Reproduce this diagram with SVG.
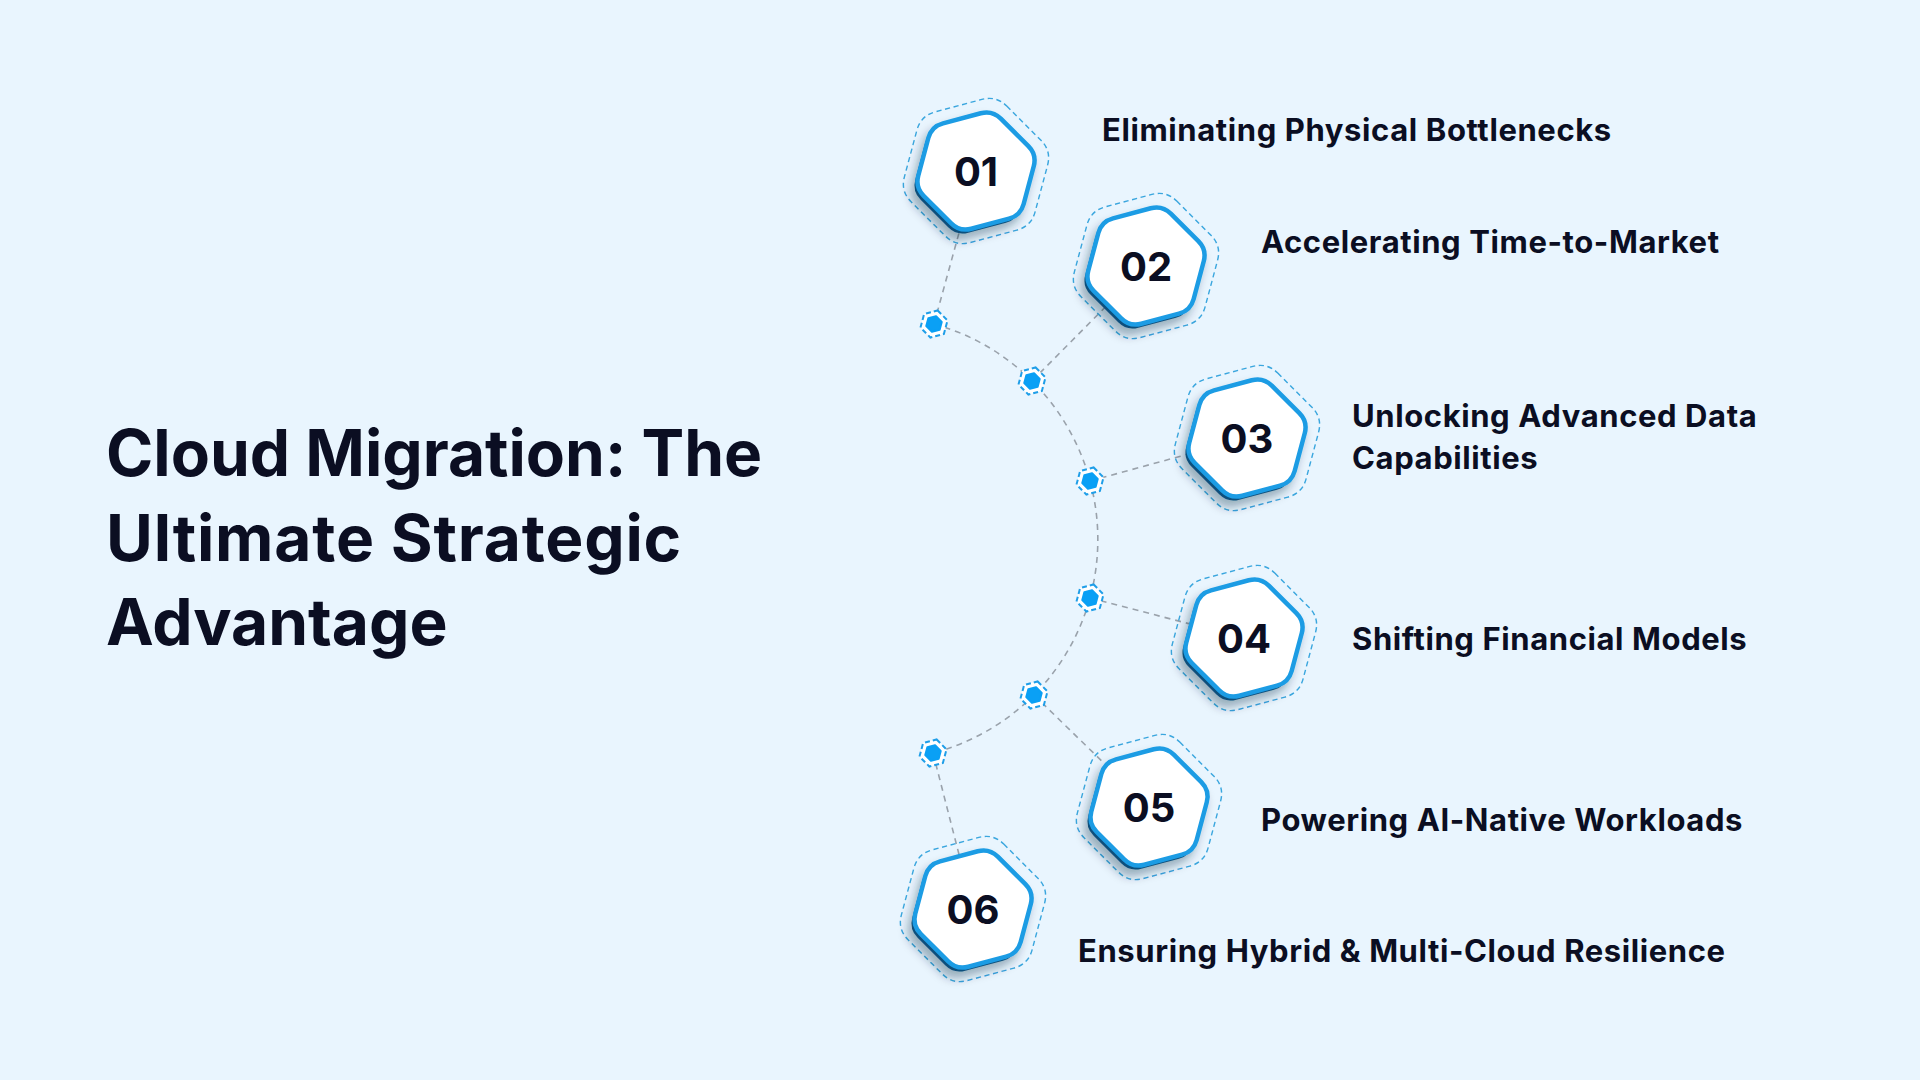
<svg xmlns="http://www.w3.org/2000/svg" xmlns:xlink="http://www.w3.org/1999/xlink" width="1920" height="1080" viewBox="0 0 1920 1080">
<style>
.title{font-family:Inter,"Liberation Sans",sans-serif;font-weight:700;font-size:64px;fill:#0b0e22}
.label{font-family:Inter,"Liberation Sans",sans-serif;font-weight:700;font-size:31px;letter-spacing:0.6px;fill:#0b0e22}
.num{font-family:Inter,"Liberation Sans",sans-serif;font-weight:700;font-size:40px;fill:#0b0e22;text-anchor:middle;dominant-baseline:central}
.hexface{fill:#ffffff;stroke:#1c9ce4;stroke-width:4.5}
.hexback{fill:#0d4f7c}
.hexring{fill:none;stroke:#3aa6de;stroke-width:1.15;stroke-dasharray:4.2 2.9}
.conn{fill:none;stroke:#9aa2ab;stroke-width:1.6;stroke-dasharray:6 5}
.dotring{fill:#ffffff;stroke:#1f9ee8;stroke-width:2;stroke-dasharray:5 3}
.dotfill{fill:#0aa0f5}
</style>
<defs>
<path id="hex" d="M24.79,-52.37 L52.37,-24.79 Q60.85,-16.31 57.74,-4.72 L47.66,32.96 Q44.55,44.55 32.96,47.66 L-4.72,57.74 Q-16.31,60.85 -24.79,52.37 L-52.37,24.79 Q-60.85,16.31 -57.74,4.72 L-47.66,-32.96 Q-44.55,-44.55 -32.96,-47.66 L4.72,-57.74 Q16.31,-60.85 24.79,-52.37 Z"/>
<filter id="shadow" x="-40%" y="-40%" width="180%" height="180%">
<feDropShadow dx="-4" dy="7" stdDeviation="5" flood-color="#0a2540" flood-opacity="0.35"/>
</filter>
<g id="hexnode">
<use xlink:href="#hex" class="hexring" transform="scale(1.24)"/>
<g filter="url(#shadow)">
<use xlink:href="#hex" class="hexback" transform="translate(-3,4)"/>
<use xlink:href="#hex" class="hexface"/>
</g>
</g>
<g id="dot">
<polygon class="dotring" points="3.62,-13.52 13.52,-3.62 9.9,9.9 -3.62,13.52 -13.52,3.62 -9.9,-9.9"/>
<polygon class="dotfill" stroke="#0aa0f5" stroke-width="2" stroke-linejoin="round" points="2.07,-7.73 7.73,-2.07 5.66,5.66 -2.07,7.73 -7.73,2.07 -5.66,-5.66"/>
</g>
</defs>
<rect width="1920" height="1080" fill="#e9f5fe"/>

<g id="title">
<text class="title" x="106" y="476">Cloud Migration: The</text>
<text class="title" x="106" y="561" letter-spacing="0.8">Ultimate Strategic</text>
<text class="title" x="106" y="645">Advantage</text>
</g>

<g id="connectors">
<path class="conn" d="M934,324 A222.5,222.5 0 0 1 1032,381 A222.5,222.5 0 0 1 1090,481 A222.5,222.5 0 0 1 1090,598 A222.5,222.5 0 0 1 1034,695 A222.5,222.5 0 0 1 933,753"/>
<line class="conn" x1="934" y1="324" x2="976" y2="171"/>
<line class="conn" x1="1032" y1="381" x2="1146" y2="266"/>
<line class="conn" x1="1090" y1="481" x2="1247" y2="438"/>
<line class="conn" x1="1090" y1="598" x2="1244" y2="638"/>
<line class="conn" x1="1034" y1="695" x2="1149" y2="807"/>
<line class="conn" x1="933" y1="753" x2="973" y2="909"/>
</g>

<g id="dot1"><use xlink:href="#dot" x="934" y="324"/></g>
<g id="dot2"><use xlink:href="#dot" x="1032" y="381"/></g>
<g id="dot3"><use xlink:href="#dot" x="1090" y="481"/></g>
<g id="dot4"><use xlink:href="#dot" x="1090" y="598"/></g>
<g id="dot5"><use xlink:href="#dot" x="1034" y="695"/></g>
<g id="dot6"><use xlink:href="#dot" x="933" y="753"/></g>

<g id="node1">
<use xlink:href="#hexnode" x="976" y="171"/>
<text class="num" x="976" y="171">01</text>
<text class="label" x="1102" y="141">Eliminating Physical Bottlenecks</text>
</g>
<g id="node2">
<use xlink:href="#hexnode" x="1146" y="266"/>
<text class="num" x="1146" y="266">02</text>
<text class="label" x="1261" y="253">Accelerating Time-to-Market</text>
</g>
<g id="node3">
<use xlink:href="#hexnode" x="1247" y="438"/>
<text class="num" x="1247" y="438">03</text>
<text class="label" x="1352" y="427">Unlocking Advanced Data</text>
<text class="label" x="1352" y="469">Capabilities</text>
</g>
<g id="node4">
<use xlink:href="#hexnode" x="1244" y="638"/>
<text class="num" x="1244" y="638">04</text>
<text class="label" x="1352" y="650">Shifting Financial Models</text>
</g>
<g id="node5">
<use xlink:href="#hexnode" x="1149" y="807"/>
<text class="num" x="1149" y="807">05</text>
<text class="label" x="1261" y="831">Powering AI-Native Workloads</text>
</g>
<g id="node6">
<use xlink:href="#hexnode" x="973" y="909"/>
<text class="num" x="973" y="909">06</text>
<text class="label" x="1078" y="962">Ensuring Hybrid &amp; Multi-Cloud Resilience</text>
</g>
</svg>
